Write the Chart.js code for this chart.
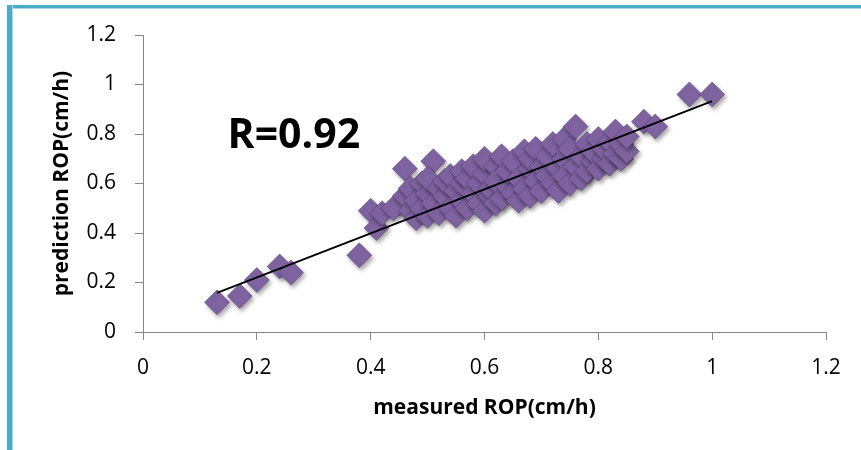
<!DOCTYPE html>
<html>
<head>
<meta charset="utf-8">
<script src="https://cdn.jsdelivr.net/npm/chart.js@4/dist/chart.umd.min.js"></script>
<style>
  html, body { margin: 0; padding: 0; background: #ffffff; }
  #wrap { position: relative; width: 861px; height: 450px; overflow: hidden; }
  #frameTop { position: absolute; left: 7px; top: 5px; width: 854px; height: 3px; background: #4BACC6; box-shadow: 0 1px 0 #a9d6e3; }
  #frameLeft { position: absolute; left: 7px; top: 5px; width: 5px; height: 445px; background: #4BACC6; box-shadow: 1px 0 0 #a9d6e3; }
  canvas { position: absolute; left: 0; top: 0; }
</style>
</head>
<body>
<div id="wrap">
  <div id="frameTop"></div>
  <div id="frameLeft"></div>
  <canvas id="c" width="861" height="450"></canvas>
</div>
<script>
// ---- data ----
const measuredROP = [
  0.13, 0.17, 0.20, 0.24, 0.26, 0.38, 0.40, 0.41, 0.42, 0.45, 0.46, 0.51,
  0.44, 0.46, 0.47, 0.47, 0.48, 0.48, 0.49, 0.49, 0.50, 0.50, 0.50,
  0.51, 0.52, 0.52, 0.53, 0.53, 0.54, 0.54, 0.55, 0.55, 0.56, 0.56, 0.56,
  0.57, 0.57, 0.58, 0.58, 0.59, 0.59, 0.60, 0.60, 0.60, 0.61, 0.61, 0.62, 0.62, 0.62,
  0.63, 0.63, 0.64, 0.64, 0.65, 0.65, 0.66, 0.66, 0.67, 0.67, 0.68, 0.68, 0.68,
  0.69, 0.69, 0.70, 0.70, 0.71, 0.71, 0.72, 0.72, 0.73, 0.73, 0.74, 0.74, 0.74,
  0.75, 0.75, 0.76, 0.76, 0.77, 0.77, 0.78, 0.78, 0.79, 0.79, 0.80, 0.80,
  0.81, 0.81, 0.82, 0.82, 0.83, 0.83, 0.84, 0.84, 0.85, 0.85,
  0.88, 0.90, 0.96, 1.00
];
const predictedROP = [
  0.12, 0.145, 0.21, 0.265, 0.24, 0.31, 0.49, 0.42, 0.48, 0.52, 0.66, 0.69,
  0.50, 0.55, 0.49, 0.58, 0.53, 0.46, 0.60, 0.50, 0.56, 0.47, 0.62,
  0.52, 0.58, 0.48, 0.55, 0.61, 0.50, 0.63, 0.57, 0.47, 0.53, 0.60, 0.65,
  0.50, 0.62, 0.56, 0.67, 0.52, 0.60, 0.49, 0.64, 0.70, 0.55, 0.58, 0.52, 0.67, 0.61,
  0.54, 0.71, 0.59, 0.65, 0.56, 0.69, 0.53, 0.62, 0.58, 0.73, 0.55, 0.66, 0.70,
  0.61, 0.74, 0.57, 0.67, 0.63, 0.71, 0.60, 0.76, 0.57, 0.66, 0.70, 0.63, 0.78,
  0.60, 0.74, 0.83, 0.67, 0.62, 0.71, 0.76, 0.65, 0.69, 0.73, 0.66, 0.78,
  0.70, 0.74, 0.68, 0.77, 0.81, 0.72, 0.70, 0.76, 0.73, 0.79,
  0.85, 0.83, 0.96, 0.96
];
const trendX = [0.13, 1.00];
const trendY = [0.158, 0.933];
const xTickLabels = ['0', '0.2', '0.4', '0.6', '0.8', '1', '1.2'];
const yTickLabels = ['0', '0.2', '0.4', '0.6', '0.8', '1', '1.2'];
const xTitle = 'measured ROP(cm/h)';
const yTitle = 'prediction ROP(cm/h)';
const annotationText = 'R=0.92';

const scatterPoints = measuredROP.map((x, i) => ({ x: x, y: predictedROP[i] }));
const trendPoints = trendX.map((x, i) => ({ x: x, y: trendY[i] }));

const FONT = "'Open Sans', 'Liberation Sans', sans-serif";

const shadowPlugin = {
  id: 'markerShadow',
  beforeDatasetDraw(chart, args) {
    if (args.index === 1) {
      const ctx = chart.ctx;
      ctx.save();
      ctx.shadowColor = 'rgba(0,0,0,0.35)';
      ctx.shadowBlur = 4;
      ctx.shadowOffsetX = 2;
      ctx.shadowOffsetY = 3;
    }
  },
  afterDatasetDraw(chart, args) {
    if (args.index === 1) chart.ctx.restore();
  }
};

const annotationPlugin = {
  id: 'rLabel',
  afterDraw(chart) {
    const ctx = chart.ctx;
    const xs = chart.scales.x, ys = chart.scales.y;
    ctx.save();
    ctx.font = "bold 41px " + FONT;
    ctx.fillStyle = '#000000';
    ctx.textAlign = 'center';
    ctx.textBaseline = 'middle';
    ctx.fillText(annotationText, xs.getPixelForValue(0.265), ys.getPixelForValue(0.79));
    ctx.restore();
  }
};

new Chart(document.getElementById('c'), {
  type: 'scatter',
  data: {
    datasets: [
      {
        type: 'line',
        data: trendPoints,
        borderColor: '#000000',
        borderWidth: 2,
        pointRadius: 0,
        fill: false,
        order: 0
      },
      {
        data: scatterPoints,
        pointStyle: 'rectRot',
        pointRadius: 12.5,
        backgroundColor: '#8064A2',
        borderColor: 'rgba(70,48,100,0.55)',
        borderWidth: 0.8,
        order: 1
      }
    ]
  },
  options: {
    responsive: false,
    animation: false,
    events: [],
    layout: { padding: { left: 0, right: 35, top: 35, bottom: 0 } },
    plugins: { legend: { display: false }, tooltip: { enabled: false } },
    scales: {
      x: {
        type: 'linear',
        min: 0, max: 1.2,
        afterFit(scale) { scale.height = 118; },
        ticks: {
          stepSize: 0.2,
          color: '#000000',
          padding: 15,
          font: { family: FONT, size: 21 },
          callback: (v, i) => xTickLabels[i]
        },
        grid: { drawOnChartArea: false, drawTicks: true, tickLength: 8, color: '#868686' },
        border: { display: true, color: '#868686', width: 1 },
        title: {
          display: true,
          text: xTitle,
          color: '#000000',
          font: { family: FONT, size: 21, weight: 'bold' },
          padding: { top: 0, bottom: 29 }
        }
      },
      y: {
        type: 'linear',
        min: 0, max: 1.2,
        afterFit(scale) { scale.width = 143; },
        ticks: {
          stepSize: 0.2,
          color: '#000000',
          padding: 19,
          font: { family: FONT, size: 21 },
          callback: (v, i) => yTickLabels[i]
        },
        grid: { drawOnChartArea: false, drawTicks: true, tickLength: 8, color: '#868686' },
        border: { display: true, color: '#868686', width: 1 },
        title: {
          display: true,
          text: yTitle,
          color: '#000000',
          font: { family: FONT, size: 21, weight: 'bold' },
          padding: { top: 49, bottom: 0 }
        }
      }
    }
  },
  plugins: [shadowPlugin, annotationPlugin]
});
</script>
</body>
</html>
